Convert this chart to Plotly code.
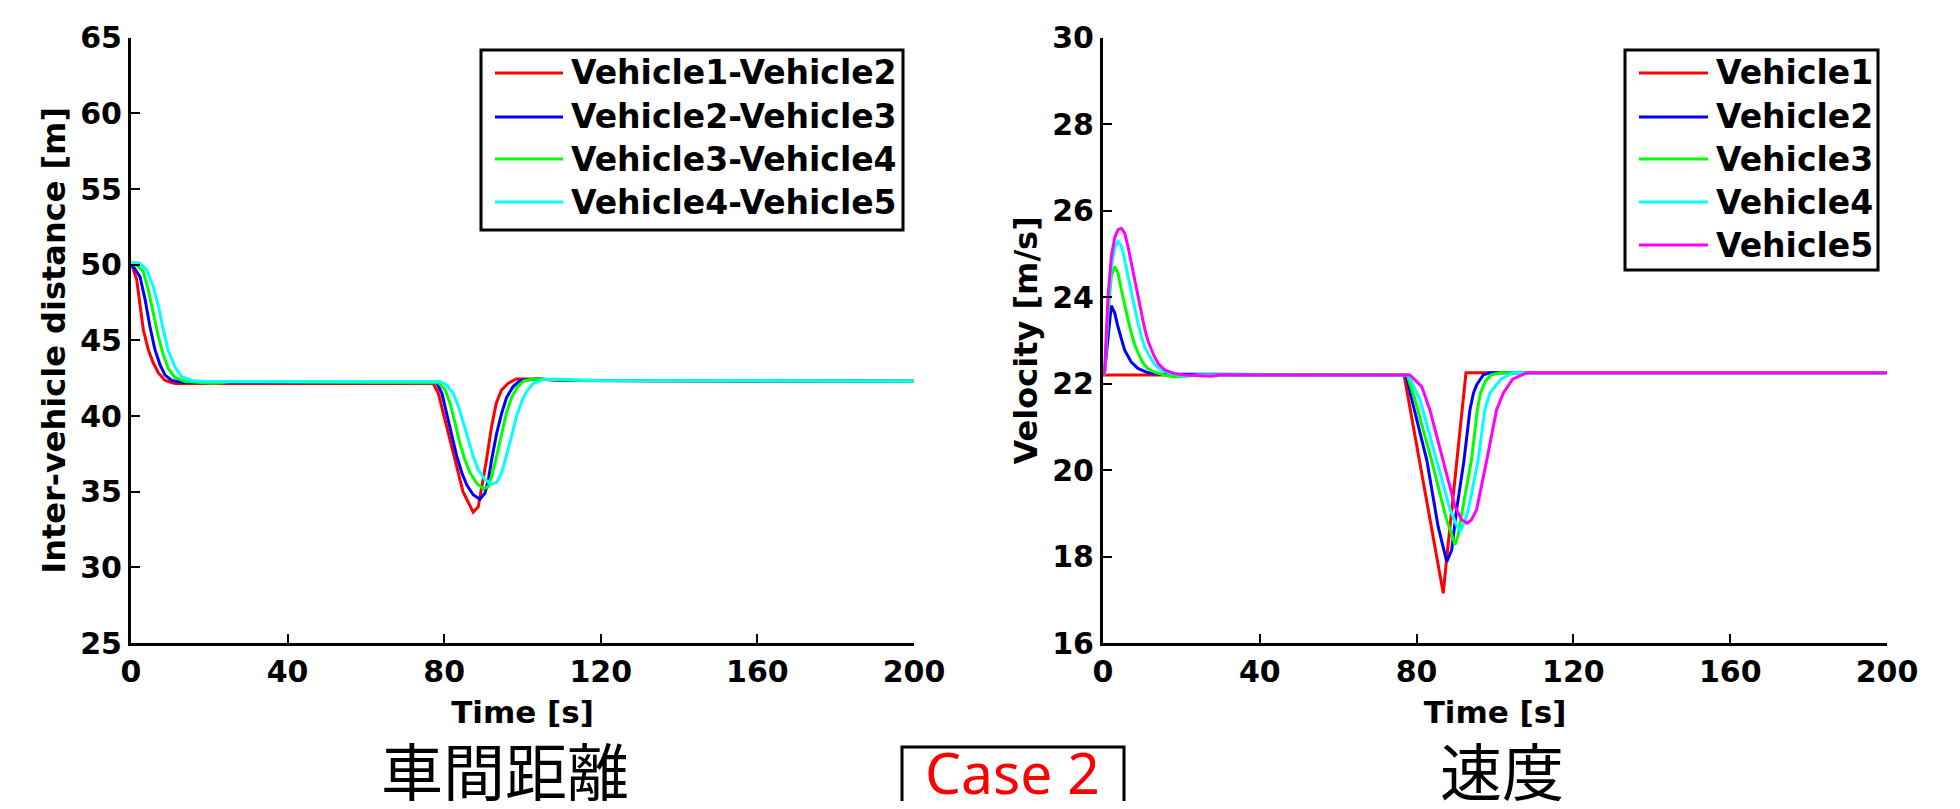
import plotly.graph_objects as go

# ---------------- Inter-vehicle distance (left) ----------------
t_gap12 = [0, 0.3, 1.45, 2.3, 3.15, 4.4, 5.7, 7.0, 8.7, 11.2, 20, 77.2, 78.5, 79.8, 81.0, 82.3, 83.6, 84.8,
           86.6, 87.4, 88.7, 89.95, 90.8, 92.1, 93.3, 94.6, 96.3, 98.4, 104, 110, 200]
gap12 = [50.0, 49.95, 49.0, 47.2, 45.7, 44.4, 43.5, 42.85, 42.35, 42.15, 42.15, 42.15, 41.5, 40.2, 38.9, 37.55,
         36.25, 35.0, 34.0, 33.65, 34.0, 35.8, 37.1, 39.3, 40.85, 41.7, 42.15, 42.45, 42.45, 42.35, 42.3]

t_gap23 = [0, 0.8, 2.3, 3.6, 4.85, 6.1, 7.4, 8.7, 10.4, 13.4, 78.1, 79.4, 80.6, 81.9, 83.2, 84.5, 85.75, 87.4,
           89.1, 90.4, 91.3, 92.1, 93.4, 94.7, 95.9, 97.6, 99.4, 103.6, 112, 200]
gap23 = [50.0, 49.8, 49.2, 47.7, 45.9, 44.4, 43.4, 42.7, 42.35, 42.22, 42.2, 41.5, 40.2, 38.75, 37.35, 36.25,
         35.45, 34.8, 34.5, 34.9, 35.8, 37.1, 38.85, 40.2, 41.2, 41.95, 42.35, 42.45, 42.35, 42.3]

t_gap34 = [0, 1.0, 3.15, 4.4, 5.7, 7.0, 8.25, 9.5, 11.2, 13.8, 18, 21, 25, 78.5, 80.2, 81.5, 82.75, 84.0, 85.3,
           86.6, 88.3, 90.0, 91.3, 92.1, 93.4, 94.7, 95.9, 97.2, 98.5, 100.2, 102.7, 114.6, 200]
gap34 = [50.0, 50.1, 49.55, 48.35, 46.8, 45.25, 44.05, 43.15, 42.55, 42.28, 42.22, 42.17, 42.25, 42.2, 41.75,
         40.85, 39.55, 38.2, 37.1, 36.25, 35.55, 35.2, 35.35, 36.0, 37.35, 38.85, 40.2, 41.2, 41.85, 42.3, 42.45,
         42.35, 42.3]

t_gap45 = [0, 0.2, 2.3, 4.0, 5.7, 7.0, 8.25, 9.5, 11.2, 12.95, 15.5, 18.9, 78.9, 80.6, 82.3, 83.6, 84.9, 86.2,
           87.4, 88.7, 90.4, 92.1, 93.4, 94.7, 95.9, 97.2, 98.5, 99.8, 101.0, 102.7, 105.3, 107.9, 119.8, 200]
gap45 = [50.0, 50.15, 50.1, 49.65, 48.55, 47.25, 45.7, 44.35, 43.25, 42.6, 42.35, 42.28, 42.28, 42.05, 41.5,
         40.65, 39.55, 38.45, 37.35, 36.45, 35.8, 35.5, 35.6, 36.25, 37.35, 38.65, 40.0, 40.95, 41.6, 42.15, 42.4,
         42.45, 42.35, 42.3]

gap_names = ["Vehicle1-Vehicle2", "Vehicle2-Vehicle3", "Vehicle3-Vehicle4", "Vehicle4-Vehicle5"]

# ---------------- Velocity (right) ----------------
t_v1 = [0, 76.8, 86.8, 87.5, 92.6, 200]
v1 = [22.2, 22.2, 17.15, 17.8, 22.25, 22.25]

t_v2 = [0, 0.45, 2.1, 3.0, 3.8, 4.7, 5.5, 7.2, 8.9, 11.5, 14, 77.3, 78.8, 82.6, 85.5, 87.7, 88.95, 90.2, 92.1,
        93.6, 94.5, 95.3, 97.0, 98.7, 200]
v2 = [22.2, 22.3, 23.8, 23.63, 23.32, 23.0, 22.78, 22.5, 22.35, 22.25, 22.22, 22.2, 21.62, 20.23, 18.69, 17.88,
      18.15, 19.08, 20.23, 21.39, 21.78, 21.97, 22.2, 22.25, 22.25]

t_v3 = [0, 0.43, 1.28, 2.13, 2.98, 3.83, 4.68, 5.53, 6.38, 7.23, 8.08, 8.93, 10.2, 11.5, 13.2, 15.7, 18.3, 20.8,
        25, 77.6, 79.6, 83.8, 87.5, 89.8, 90.6, 91.7, 94.0, 95.5, 96.3, 97.5, 99, 101.3, 200]
v3 = [22.2, 22.24, 23.63, 24.48, 24.71, 24.56, 24.17, 23.79, 23.48, 23.17, 22.9, 22.71, 22.48, 22.34, 22.26,
      22.2, 22.15, 22.17, 22.2, 22.2, 21.62, 20.23, 18.9, 18.27, 18.5, 19.08, 20.23, 21.39, 21.78, 22.05, 22.2,
      22.25, 22.25]

t_v4 = [0, 0.43, 1.28, 2.13, 2.98, 3.83, 4.68, 5.53, 6.38, 7.23, 8.08, 8.93, 9.78, 10.6, 11.9, 13.2, 14.9, 17.4,
        20.8, 24, 77.9, 80.9, 85.1, 88.5, 90.3, 91.1, 92.0, 93.2, 95.7, 97.4, 98.7, 101.5, 104.7, 200]
v4 = [22.2, 22.24, 23.79, 24.71, 25.14, 25.29, 25.18, 24.87, 24.48, 24.1, 23.71, 23.4, 23.09, 22.86, 22.63,
      22.44, 22.31, 22.23, 22.17, 22.2, 22.2, 21.62, 20.23, 19.1, 18.7, 18.58, 18.75, 19.08, 20.23, 21.39, 21.78,
      22.1, 22.25, 22.25]

t_v5 = [0, 0.43, 1.28, 2.13, 2.98, 3.83, 4.68, 5.53, 6.38, 7.23, 8.08, 8.93, 9.78, 10.6, 11.5, 12.9, 14.1, 15.8,
        18.3, 20.8, 27.6, 30, 78.3, 81.3, 83.4, 86.8, 89.8, 91.5, 92.9, 94.0, 95.3, 97.9, 100.4, 102.1, 104.5,
        108.1, 200]
v5 = [22.2, 22.3, 24.02, 24.94, 25.37, 25.56, 25.59, 25.48, 25.17, 24.79, 24.4, 24.02, 23.63, 23.28, 22.98,
      22.67, 22.46, 22.31, 22.23, 22.2, 22.17, 22.2, 22.2, 21.93, 21.39, 20.23, 19.16, 18.85, 18.77, 18.85, 19.08,
      20.23, 21.39, 21.78, 22.1, 22.25, 22.25]

vel_names = ["Vehicle1", "Vehicle2", "Vehicle3", "Vehicle4", "Vehicle5"]

x_ticks = [0, 40, 80, 120, 160, 200]
gap_ticks = [25, 30, 35, 40, 45, 50, 55, 60, 65]
vel_ticks = [16, 18, 20, 22, 24, 26, 28, 30]

colors = ["#ff0000", "#0000ff", "#00ff00", "#00ffff", "#ff00ff"]

# The page body has an 8px margin, so the figure is placed at (8, 8) inside the 1960x809 window.
OFF = 8
W, H = 1960 - 2 * OFF, 809 - 2 * OFF


def px(x):
    return (x - OFF) / W


def py(y):
    return 1 - (y - OFF) / H


fig = go.Figure()

gap_t = [t_gap12, t_gap23, t_gap34, t_gap45]
gap_v = [gap12, gap23, gap34, gap45]
for i in range(4):
    fig.add_trace(go.Scatter(x=gap_t[i], y=gap_v[i], mode="lines", name=gap_names[i],
                             line=dict(color=colors[i], width=3), showlegend=False,
                             xaxis="x", yaxis="y"))

vel_t = [t_v1, t_v2, t_v3, t_v4, t_v5]
vel_v = [v1, v2, v3, v4, v5]
for i in range(5):
    fig.add_trace(go.Scatter(x=vel_t[i], y=vel_v[i], mode="lines", name=vel_names[i],
                             line=dict(color=colors[i], width=3), showlegend=False,
                             xaxis="x2", yaxis="y2"))

FONT = "DejaVu Sans"
tickfont = dict(family=FONT, size=30, color="black", weight="bold")
axis_common = dict(showline=True, linecolor="black", linewidth=3, ticks="inside", ticklen=9,
                   tickwidth=2, tickcolor="black", showgrid=False, zeroline=False, tickfont=tickfont,
                   automargin=False)

ydom = [py(643), py(37.7)]

fig.update_layout(
    width=W, height=H, autosize=False,
    margin=dict(l=0, r=0, t=0, b=0),
    paper_bgcolor="white", plot_bgcolor="white",
    showlegend=False,
    xaxis=dict(domain=[px(131), px(914)], range=[0, 200], tickvals=x_ticks, anchor="y",
               title=dict(text="Time [s]", font=dict(family=FONT, size=31, color="black", weight="bold"),
                          standoff=14),
               **axis_common),
    yaxis=dict(domain=ydom, range=[25, 65], tickvals=gap_ticks, anchor="x",
               title=dict(text="Inter-vehicle distance [m]",
                          font=dict(family=FONT, size=32, color="black", weight="bold"), standoff=6),
               **axis_common),
    xaxis2=dict(domain=[px(1103), px(1887)], range=[0, 200], tickvals=x_ticks, anchor="y2",
                title=dict(text="Time [s]", font=dict(family=FONT, size=31, color="black", weight="bold"),
                           standoff=14),
                **axis_common),
    yaxis2=dict(domain=ydom, range=[16, 30], tickvals=vel_ticks, anchor="x2",
                title=dict(text="Velocity [m/s]",
                           font=dict(family=FONT, size=32, color="black", weight="bold"), standoff=6),
                **axis_common),
)

# ---------------- legends (drawn as boxes with line samples and labels) ----------------
legfont = dict(family=FONT, size=33, color="black", weight="bold")


def draw_legend(box, line_x, text_x, rows, names):
    x0, x1, y0, y1 = box
    fig.add_shape(type="rect", xref="paper", yref="paper", x0=px(x0), x1=px(x1), y0=py(y1), y1=py(y0),
                  line=dict(color="black", width=3), fillcolor="white", layer="above")
    for i, name in enumerate(names):
        yy = rows[i]
        fig.add_shape(type="line", xref="paper", yref="paper", x0=px(line_x[0]), x1=px(line_x[1]),
                      y0=py(yy), y1=py(yy), line=dict(color=colors[i], width=3), layer="above")
        fig.add_annotation(text=name, xref="paper", yref="paper", x=px(text_x), y=py(yy),
                           xanchor="left", yanchor="middle", showarrow=False, font=legfont)


draw_legend((481, 903, 50, 230), (495, 563), 569, [73, 117, 159, 202], gap_names)
draw_legend((1625, 1878, 50, 270), (1639, 1708), 1714, [73, 117, 159, 202, 245], vel_names)

# ---------------- captions ----------------
fig.add_annotation(text="車間距離", xref="paper", yref="paper", x=px(505), y=py(769),
                   xanchor="center", yanchor="middle", showarrow=False,
                   font=dict(family="Noto Sans CJK JP", size=62, color="black"))
fig.add_annotation(text="速度", xref="paper", yref="paper", x=px(1502), y=py(769),
                   xanchor="center", yanchor="middle", showarrow=False,
                   font=dict(family="Noto Sans CJK JP", size=62, color="black"))
fig.add_shape(type="rect", xref="paper", yref="paper", x0=px(902), x1=px(1124),
              y0=-0.05, y1=py(747), line=dict(color="black", width=3), fillcolor="white")
fig.add_annotation(text="Case 2", xref="paper", yref="paper", x=px(1013), y=-12 / H,
                   xanchor="center", yanchor="bottom", showarrow=False,
                   font=dict(family="Noto Sans", size=57, color="#ff0000"))

fig.write_html("out.html")
